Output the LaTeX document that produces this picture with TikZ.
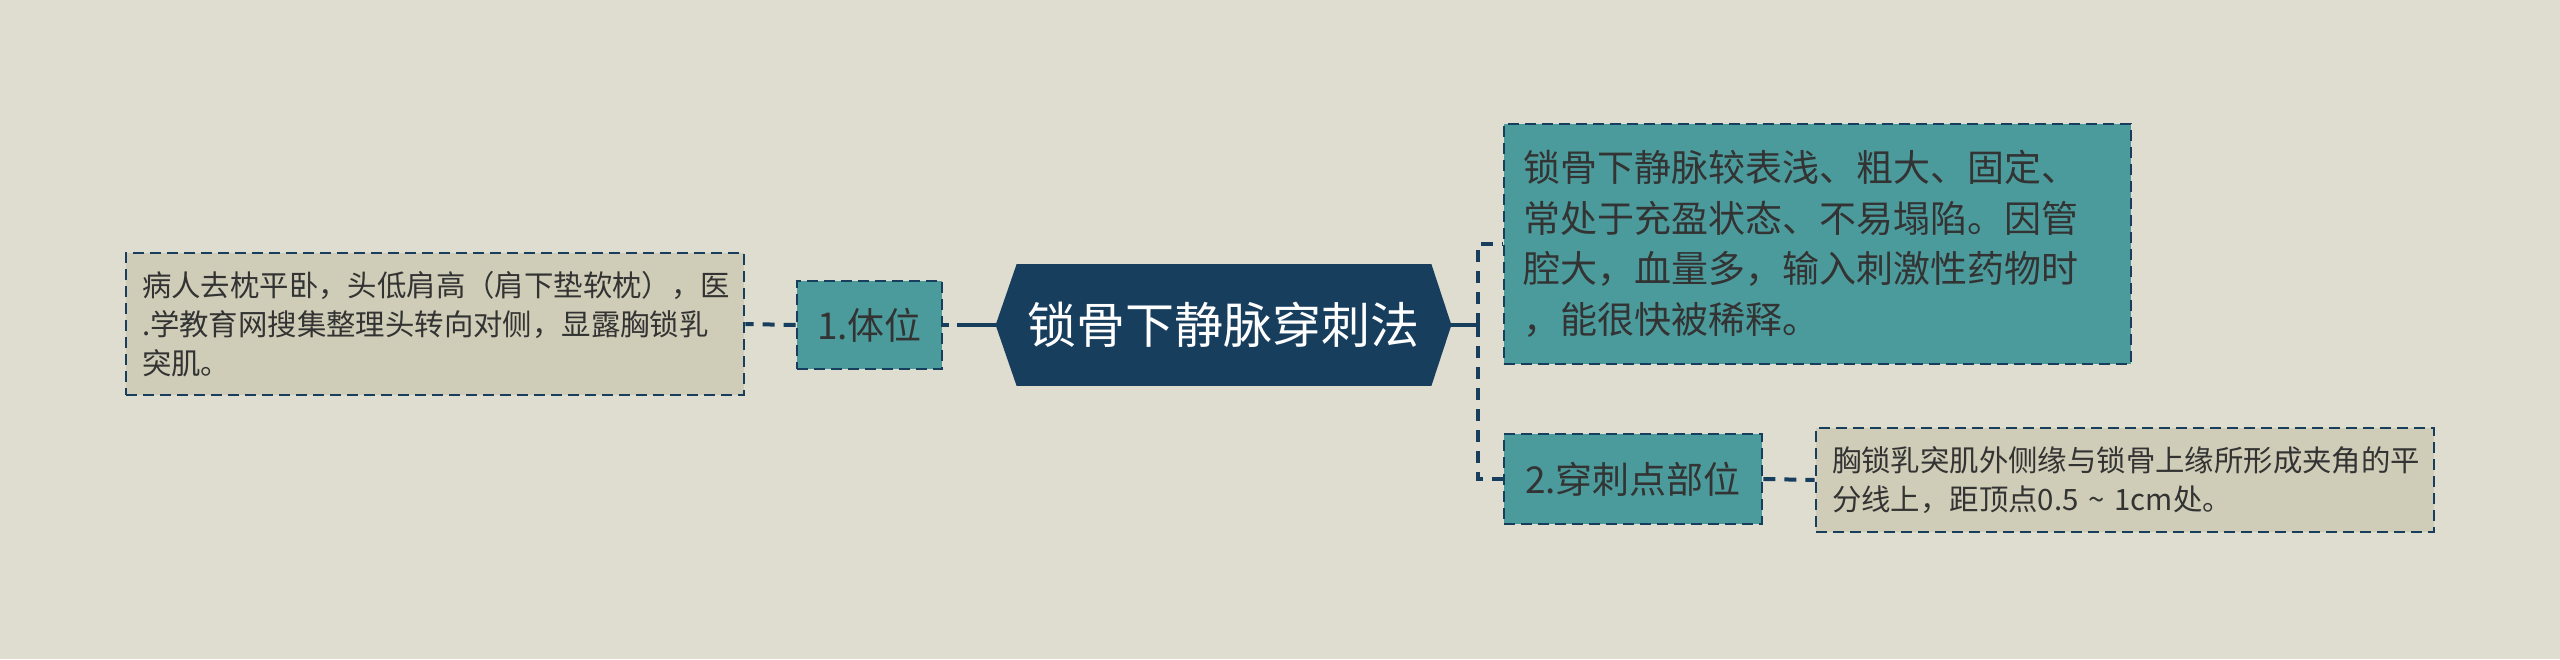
\documentclass[tikz,border=0pt]{standalone}
\usepackage{fontspec}
\newfontfamily\cjk{Noto Sans CJK SC}
\usetikzlibrary{calc}
\definecolor{bgc}{HTML}{DFDDD0}
\definecolor{navy}{HTML}{183E5E}
\definecolor{tealc}{HTML}{4C9B9C}
\definecolor{beige}{HTML}{CFCDB7}
\definecolor{txt}{HTML}{333333}
\begin{document}
\begin{tikzpicture}[x=0.5pt,y=-0.5pt,
  dbox/.style={draw=navy, line width=1.4pt, dash pattern=on 5.5pt off 3pt, text=txt, align=left},
  tealbox/.style={dbox, fill=tealc},
  notebox/.style={dbox, fill=beige},
  conn/.style={draw=navy, line width=2pt, dash pattern=on 6pt off 4.5pt},
  solidconn/.style={draw=navy, line width=2pt},
  smallfont/.style={font=\cjk\fontsize{14.7pt}{19.4pt}\selectfont},
  bigfont/.style={font=\cjk\fontsize{18.5pt}{25.3pt}\selectfont},
  labfont/.style={font=\cjk\fontsize{18.5pt}{22pt}\selectfont, align=center}]
\fill[bgc] (0,0) rectangle (2560,659);
\useasboundingbox (0,0) rectangle (2560,659);

% root
\node[minimum width=227.5pt, minimum height=60.5pt, inner sep=0pt] (root) at (1223.5,325) {};
\fill[navy] (root.west) -- ($(root.north west)+(21,0)$) -- ($(root.north east)+(-20,0)$)
  -- (root.east) -- ($(root.south east)+(-20,0)$) -- ($(root.south west)+(21,0)$) -- cycle;
\node[font=\cjk\fontsize{24.5pt}{28pt}\selectfont, text=white] (roottext) at (root.center) {锁骨下静脉穿刺法};

% left branch
\node[tealbox, labfont, minimum width=72.5pt, minimum height=44pt, inner sep=0pt] (n1) at (869.5,325) {1.体位};
\node[notebox, smallfont, text width=293pt, inner xsep=8pt, inner ysep=0pt, minimum height=71pt] (leftnote) at (435,324)
  {病人去枕平卧，头低肩高（肩下垫软枕），医\\.学教育网搜集整理头转向对侧，显露胸锁乳\\突肌。};

% right branch
\node[tealbox, bigfont, text width=294.5pt, inner xsep=9.5pt, inner ysep=0pt, minimum height=120pt] (top) at (1817.5,244)
  {锁骨下静脉较表浅、粗大、固定、\\常处于充盈状态、不易塌陷。因管\\腔大，血量多，输入刺激性药物时\\，能很快被稀释。};
\node[tealbox, labfont, minimum width=129pt, minimum height=45pt, inner sep=0pt] (n2) at (1633,479) {2.穿刺点部位};
\node[notebox, smallfont, text width=293pt, inner xsep=8pt, inner ysep=0pt, minimum height=52pt] (rightnote) at (2125,480)
  {胸锁乳突肌外侧缘与锁骨上缘所形成夹角的平\\分线上，距顶点0.5 \textasciitilde{} 1cm处。};

\coordinate (hub) at (1478,325);

% connectors
\draw[solidconn, dash pattern=on 19.5pt off 4pt] (root.west) -- (n1.east);
\draw[conn] (n1.west) -- (leftnote.east);
\draw[solidconn] (root.east) -- (hub);
\draw[conn] (hub) |- (top.west);
\draw[conn] (hub) |- (n2.west);
\draw[conn] (n2.east) -- (rightnote.west);
\end{tikzpicture}
\end{document}
